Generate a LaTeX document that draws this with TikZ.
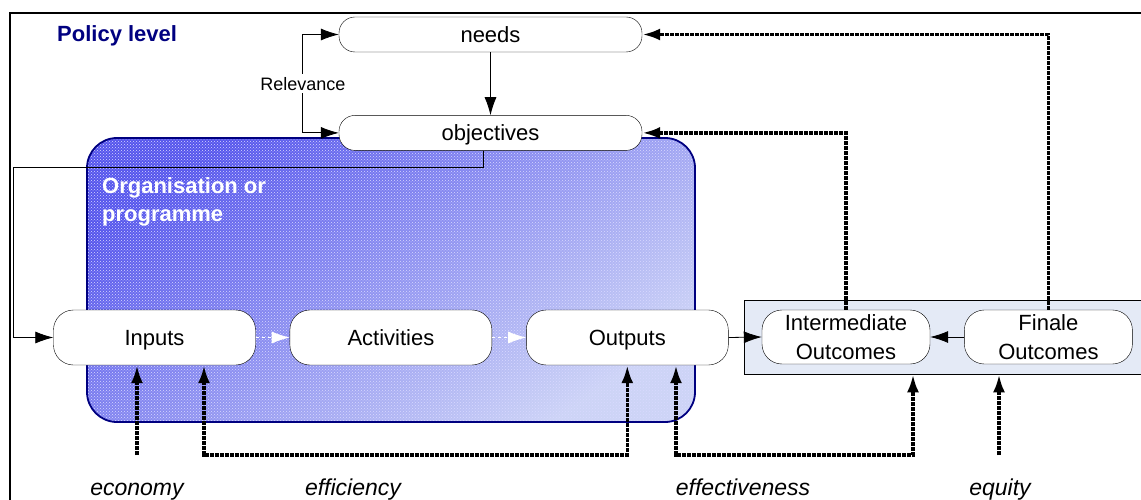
\documentclass[tikz,border=0pt]{standalone}
\usepackage{fontspec}
\setmainfont{Liberation Sans}
\usetikzlibrary{arrows.meta, positioning, patterns}

\definecolor{navy}{RGB}{0,0,128}
\definecolor{paleblue}{RGB}{228,234,246}
\definecolor{orgdark}{RGB}{85,85,236}
\definecolor{orgmid}{RGB}{118,120,238}
\definecolor{orglight}{RGB}{205,212,246}

\begin{document}
\begin{tikzpicture}[x=1pt, y=-1pt, >={Latex[length=18pt, width=12pt]}, font=\fontsize{22}{26}\selectfont]
\tikzstyle{pill} = [rectangle, rounded corners=16pt, draw=black, fill=white, minimum width=303pt, minimum height=35pt, inner sep=0pt, text height=16pt, text depth=0pt, text centered]
\tikzstyle{stage} = [rectangle, rounded corners=20pt, draw=black, fill=white, minimum width=202pt, minimum height=55pt, inner sep=0pt, text height=16pt, text depth=0pt, align=center]
\tikzstyle{outcome} = [rectangle, rounded corners=20pt, draw=black, fill=white, minimum width=168pt, minimum height=54pt, inner sep=0pt, align=center, font=\fontsize{22}{29}\selectfont]
\tikzstyle{link} = [line width=0.8pt]
\tikzstyle{measure} = [line width=3.5pt, dash pattern=on 4pt off 1pt]
\tikzstyle{criterion} = [anchor=base, font=\fontsize{23}{26}\selectfont\itshape]

\useasboundingbox (0,0) rectangle (1141,500);

% frame of the policy level
\draw[line width=1.5pt] (10,505) -- (10,13) -- (1145,13);
\node (PL) [anchor=base west, inner sep=0pt, text=navy, font=\fontsize{22}{26}\selectfont\bfseries] at (57,42) {Policy level};

% organisation or programme
\shade[rounded corners=30pt, top color=orgdark, middle color=orgmid, bottom color=orglight, shading angle=35] (87,138) rectangle (695,422);
\fill[rounded corners=30pt, pattern=crosshatch dots, pattern color=white!85!blue] (87,138) rectangle (695,422);
\draw[rounded corners=30pt, draw=navy, line width=1.8pt] (87,138) rectangle (695,422);
\node (ORG) [anchor=north west, inner sep=0pt, align=left, text=white, font=\fontsize{22}{28}\selectfont\bfseries] at (102,177) {Organisation or\\programme};

% outcome region
\node (OC) [draw=black, link, fill=paleblue, minimum width=410pt, minimum height=74pt, inner sep=0pt] at (949,337) {};

\node (needs) [pill] at (490.5,34.5) {needs};
\node (obj) [pill, below=63pt of needs] {objectives};

\node (IN) [stage] at (154.5,337.5) {Inputs};
\node (ACT) [stage, right=34pt of IN] {Activities};
\node (OUT) [stage, right=34pt of ACT] {Outputs};
\node (IO) [outcome] at (846,337) {Intermediate\\Outcomes};
\node (FO) [outcome, right=34pt of IO] {Finale\\Outcomes};

\draw[link, ->] (needs) -- (obj);
\draw[link, <->] (needs.west) -- ++(-36,0) |- node[pos=0.25, fill=white, inner sep=3pt, font=\fontsize{18}{20}\selectfont] {Relevance} (obj.west);
\draw[link, ->] ([xshift=-7.5pt]obj.south) |- (13,167) |- (IN.west);
\draw[white, dashed, link, ->] (IN) -- (ACT);
\draw[white, dashed, link, ->] (ACT) -- (OUT);
\draw[link, ->] (OUT.east) -- (IO.west);
\draw[link, ->] (FO) -- (IO);

% evaluation criteria
\draw[measure, ->] (FO.north) |- (needs.east);
\draw[measure, ->] (IO.north) |- (obj.east);
\coordinate (ECO) at (137,455);
\coordinate (EFF) at (204,455);
\coordinate (EFT) at (676,455);
\coordinate (EFT2) at (913,455);
\coordinate (EQU) at (999,455);
\draw[measure, ->] (ECO) -- (ECO |- IN.south);
\draw[measure, <->] (EFF |- IN.south) -- (EFF) -| (OUT.south);
\draw[measure, <->] (EFT |- OUT.south) -- (EFT) -| (EFT2 |- OC.south);
\draw[measure, ->] (EQU) -- (EQU |- OC.south);

\node (economy) [criterion] at (137,495) {economy};
\node (efficiency) [criterion] at (353,495) {efficiency};
\node (effectiveness) [criterion] at (743,495) {effectiveness};
\node (equity) [criterion] at (1000,495) {equity};
\end{tikzpicture}
\end{document}
